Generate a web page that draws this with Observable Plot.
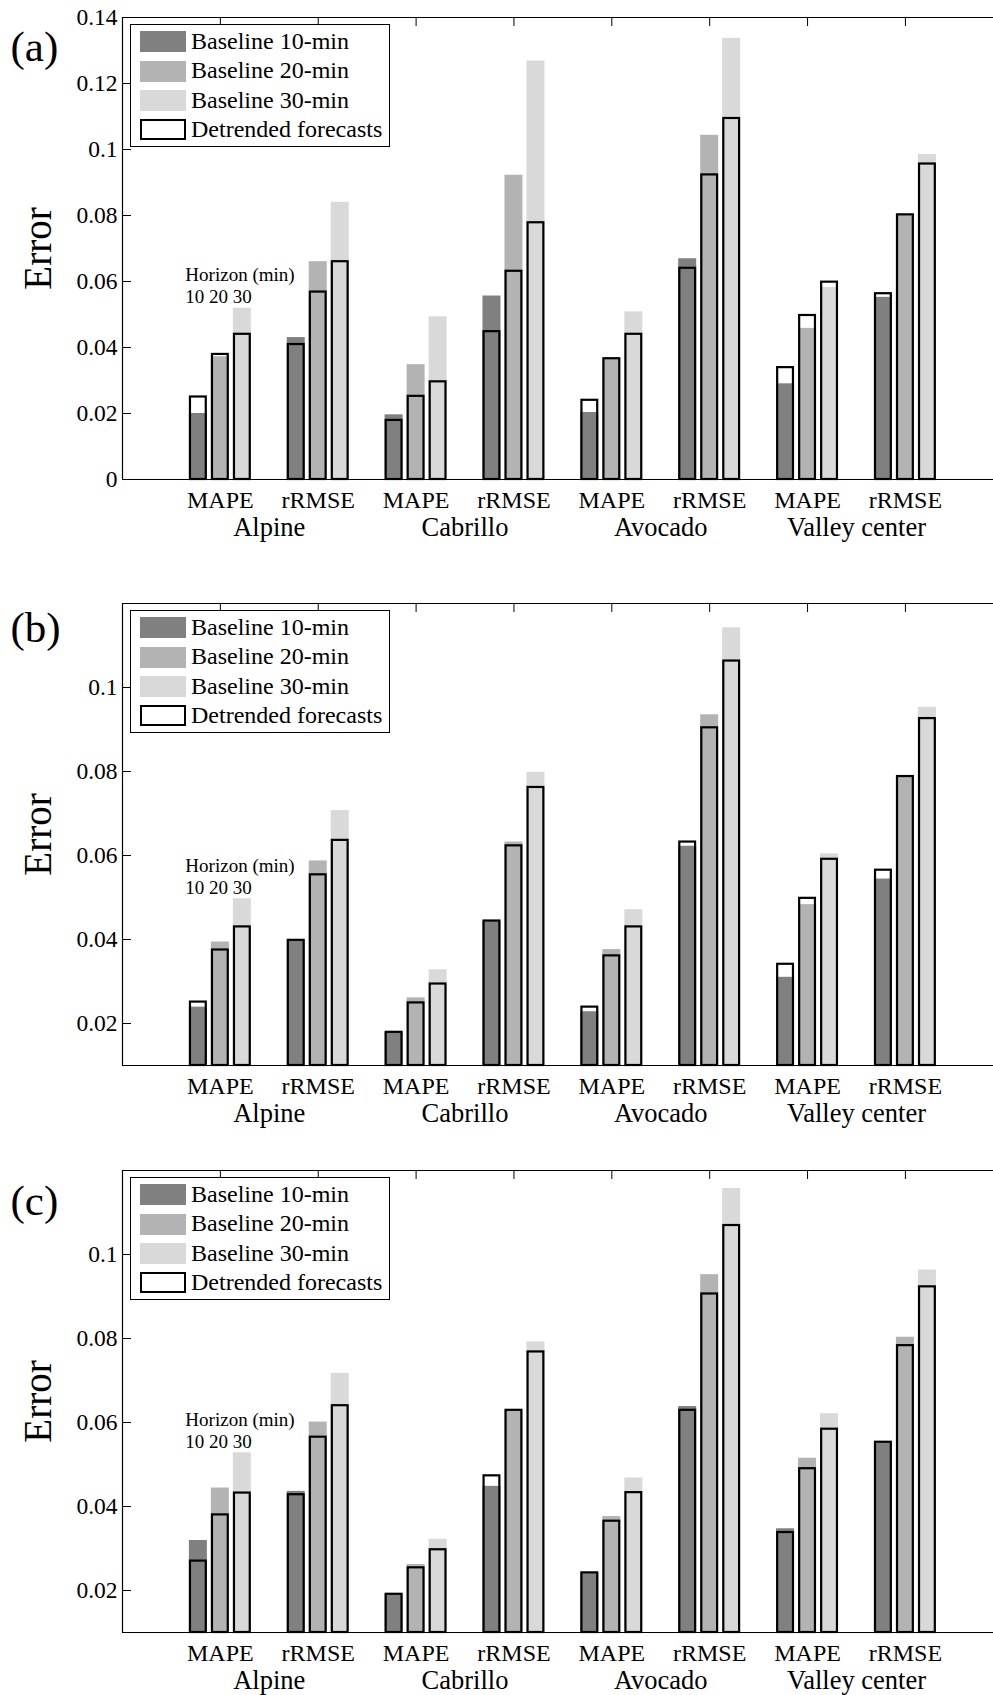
<!DOCTYPE html>
<html>
<head>
<meta charset="utf-8">
<script src="https://cdn.jsdelivr.net/npm/d3@7"></script>
<script src="https://cdn.jsdelivr.net/npm/@observablehq/plot@0.6"></script>
<style>
html, body { margin: 0; padding: 0; background: #fff; overflow: hidden; }
body { width: 993px; height: 1695px; position: relative; font-family: "Liberation Serif", "Times New Roman", serif; }
.panel { position: absolute; left: 0; }
.panel svg { max-width: none; display: block; }
.legend { position: absolute; left: 129.5px; width: 260px; height: 123px; border: 1px solid #000; box-sizing: border-box; background: #fff; }
.lrow { position: absolute; left: 0; height: 29.3px; width: 100%; }
.sw { position: absolute; left: 9px; top: 4.2px; width: 46px; height: 21px; box-sizing: border-box; }
.lt { position: absolute; left: 60.5px; top: 0; line-height: 29.3px; font-size: 24px; color: #000; white-space: nowrap; }
</style>
</head>
<body>
<script>
// ---- categories ----
const stations = ["Alpine", "Cabrillo", "Avocado", "Valley center"];
const metrics = ["MAPE", "rRMSE"];
const horizons = ["10", "20", "30"];
const seriesLabels = ["Baseline 10-min", "Baseline 20-min", "Baseline 30-min", "Detrended forecasts"];
const seriesColors = ["#808080", "#b3b3b3", "#d9d9d9"];
const panelLabels = ["(a)", "(b)", "(c)"];
const yTicksA = [0, 0.02, 0.04, 0.06, 0.08, 0.1, 0.12, 0.14];
const yTicksBC = [0.02, 0.04, 0.06, 0.08, 0.1];

// order: Alpine MAPE, Alpine rRMSE, Cabrillo MAPE, Cabrillo rRMSE, Avocado MAPE, Avocado rRMSE, Valley MAPE, Valley rRMSE
// ---- panel (a) ----
const base10_a = [0.0200, 0.0430, 0.0196, 0.0556, 0.0203, 0.0669, 0.0290, 0.0552];
const base20_a = [0.0372, 0.0660, 0.0348, 0.0922, 0.0366, 0.1043, 0.0458, 0.0802];
const base30_a = [0.0519, 0.0840, 0.0493, 0.1268, 0.0508, 0.1337, 0.0582, 0.0985];
const det10_a  = [0.0250, 0.0409, 0.0179, 0.0448, 0.0240, 0.0640, 0.0339, 0.0563];
const det20_a  = [0.0379, 0.0568, 0.0252, 0.0631, 0.0366, 0.0923, 0.0497, 0.0802];
const det30_a  = [0.0440, 0.0660, 0.0296, 0.0778, 0.0440, 0.1094, 0.0598, 0.0956];
// ---- panel (b) ----
const base10_b = [0.0239, 0.0398, 0.0179, 0.0444, 0.0228, 0.0622, 0.0310, 0.0544];
const base20_b = [0.0394, 0.0587, 0.0261, 0.0632, 0.0376, 0.0935, 0.0483, 0.0788];
const base30_b = [0.0497, 0.0707, 0.0328, 0.0798, 0.0471, 0.1142, 0.0604, 0.0953];
const det10_b  = [0.0251, 0.0398, 0.0179, 0.0444, 0.0239, 0.0632, 0.0341, 0.0565];
const det20_b  = [0.0375, 0.0554, 0.0249, 0.0623, 0.0361, 0.0904, 0.0498, 0.0788];
const det30_b  = [0.0430, 0.0636, 0.0294, 0.0762, 0.0430, 0.1063, 0.0591, 0.0926];
// ---- panel (c) ----
const base10_c = [0.0319, 0.0436, 0.0191, 0.0448, 0.0242, 0.0638, 0.0347, 0.0553];
const base20_c = [0.0444, 0.0601, 0.0262, 0.0629, 0.0376, 0.0952, 0.0515, 0.0803];
const base30_c = [0.0528, 0.0717, 0.0322, 0.0792, 0.0468, 0.1157, 0.0621, 0.0963];
const det10_c  = [0.0270, 0.0428, 0.0191, 0.0473, 0.0242, 0.0629, 0.0338, 0.0553];
const det20_c  = [0.0380, 0.0565, 0.0254, 0.0629, 0.0365, 0.0906, 0.0490, 0.0783];
const det30_c  = [0.0432, 0.0640, 0.0297, 0.0768, 0.0433, 0.1069, 0.0584, 0.0923];

const panels = [
  {label: panelLabels[0], base: [base10_a, base20_a, base30_a], det: [det10_a, det20_a, det30_a],
   yDomain: [0, 0.14], ticks: yTicksA, svgTop: 0, plotTop: 17, svgH: 565, labelDy: 43},
  {label: panelLabels[1], base: [base10_b, base20_b, base30_b], det: [det10_b, det20_b, det30_b],
   yDomain: [0.01, 0.12], ticks: yTicksBC, svgTop: 565, plotTop: 603, svgH: 573, labelDy: 38},
  {label: panelLabels[2], base: [base10_c, base20_c, base30_c], det: [det10_c, det20_c, det30_c],
   yDomain: [0.01, 0.12], ticks: yTicksBC, svgTop: 1138, plotTop: 1170, svgH: 557, labelDy: 44}
];

const W = 993, ML = 122, PH = 462;
const xDomain = [0, 8.9];
const pxPerUnit = (W - ML) / (xDomain[1] - xDomain[0]);
const barW = 18 / pxPerUnit;
const barStep = 22 / pxPerUnit;
const groupIdx = d3.range(stations.length * metrics.length).map(i => i + 1);
const fmt = d => d === 0 ? "0" : String(+d.toFixed(2));

function makePanel(p) {
  const fills = [], outlines = [];
  groupIdx.forEach((g, i) => {
    horizons.forEach((h, j) => {
      const xc = g + (j - 1) * barStep;
      fills.push({x1: xc - barW / 2, x2: xc + barW / 2, v: p.base[j][i], s: j});
      outlines.push({x1: xc - barW / 2, x2: xc + barW / 2, v: p.det[j][i]});
    });
  });
  const [y0, y1] = p.yDomain;
  const mTop = p.plotTop - p.svgTop;
  const mBottom = p.svgH - mTop - PH;
  const tickLenY = (y1 - y0) * 9 / PH;
  const tickLenX = 9 / pxPerUnit;
  const annTop = Math.max(p.base[0][0], p.base[1][0], p.base[2][0], p.det[0][0], p.det[1][0], p.det[2][0]);
  const annX = 1 - barStep - barW / 2;

  return Plot.plot({
    width: W, height: p.svgH,
    marginLeft: ML, marginRight: 0, marginTop: mTop, marginBottom: mBottom,
    x: {domain: xDomain, axis: null},
    y: {domain: p.yDomain, axis: null},
    style: {fontFamily: "'Liberation Serif', 'Times New Roman', serif", background: "transparent", overflow: "visible", color: "black"},
    marks: [
      Plot.rectY(fills, {x1: "x1", x2: "x2", y1: y0, y2: "v", fill: d => seriesColors[d.s]}),
      Plot.rectY(outlines, {x1: "x1", x2: "x2", y1: y0, y2: "v", fill: "none", stroke: "black", strokeWidth: 2.2, insetLeft: 1.1, insetRight: 1.1}),
      Plot.ruleX([xDomain[0]], {stroke: "black", strokeWidth: 1.2}),
      Plot.ruleY([y0, y1], {stroke: "black", strokeWidth: 1.2}),
      Plot.ruleY(p.ticks, {y: d => d, x1: xDomain[0], x2: xDomain[0] + tickLenX, stroke: "black", strokeWidth: 1}),
      Plot.ruleX(groupIdx, {x: d => d, y1: y1, y2: y1 - tickLenY, stroke: "black", strokeWidth: 1}),
      Plot.text(p.ticks, {x: xDomain[0], y: d => d, text: fmt, textAnchor: "end", dx: -5, fontSize: 23.5}),
      Plot.text(groupIdx, {x: d => d, text: (d, i) => metrics[i % 2], frameAnchor: "bottom", textAnchor: "middle", lineAnchor: "bottom", dy: 28, fontSize: 24}),
      Plot.text(stations, {x: (d, i) => 2 * i + 1.5, text: d => d, frameAnchor: "bottom", textAnchor: "middle", lineAnchor: "bottom", dy: 56, fontSize: 26.5}),
      Plot.text(["Error"], {text: d => d, frameAnchor: "left", textAnchor: "middle", rotate: -90, lineAnchor: "bottom", dx: -72, fontSize: 39}),
      Plot.text([p.label], {text: d => d, frameAnchor: "top-left", textAnchor: "start", lineAnchor: "bottom", dx: 10 - ML, dy: p.labelDy, fontSize: 43}),
      Plot.text(["Horizon (min)"], {text: d => d, x: annX, y: annTop, textAnchor: "start", lineAnchor: "bottom", dx: -4, dy: -27, fontSize: 19}),
      Plot.text([horizons.join(" ")], {text: d => d, x: annX, y: annTop, textAnchor: "start", lineAnchor: "bottom", dx: -4, dy: -5, fontSize: 19})
    ]
  });
}

panels.forEach(p => {
  const div = document.createElement("div");
  div.className = "panel";
  div.style.top = p.svgTop + "px";
  div.appendChild(makePanel(p));
  document.body.appendChild(div);

  const leg = document.createElement("div");
  leg.className = "legend";
  leg.style.top = (p.plotTop + 7) + "px";
  seriesLabels.forEach((lab, i) => {
    const row = document.createElement("div");
    row.className = "lrow";
    row.style.top = (2.05 + 29.3 * i) + "px";
    const sw = document.createElement("div");
    sw.className = "sw";
    if (i < seriesColors.length) sw.style.background = seriesColors[i];
    else { sw.style.background = "#fff"; sw.style.border = "2.2px solid #000"; }
    const t = document.createElement("div");
    t.className = "lt";
    t.textContent = lab;
    row.appendChild(sw); row.appendChild(t);
    leg.appendChild(row);
  });
  document.body.appendChild(leg);
});
</script>
</body>
</html>
